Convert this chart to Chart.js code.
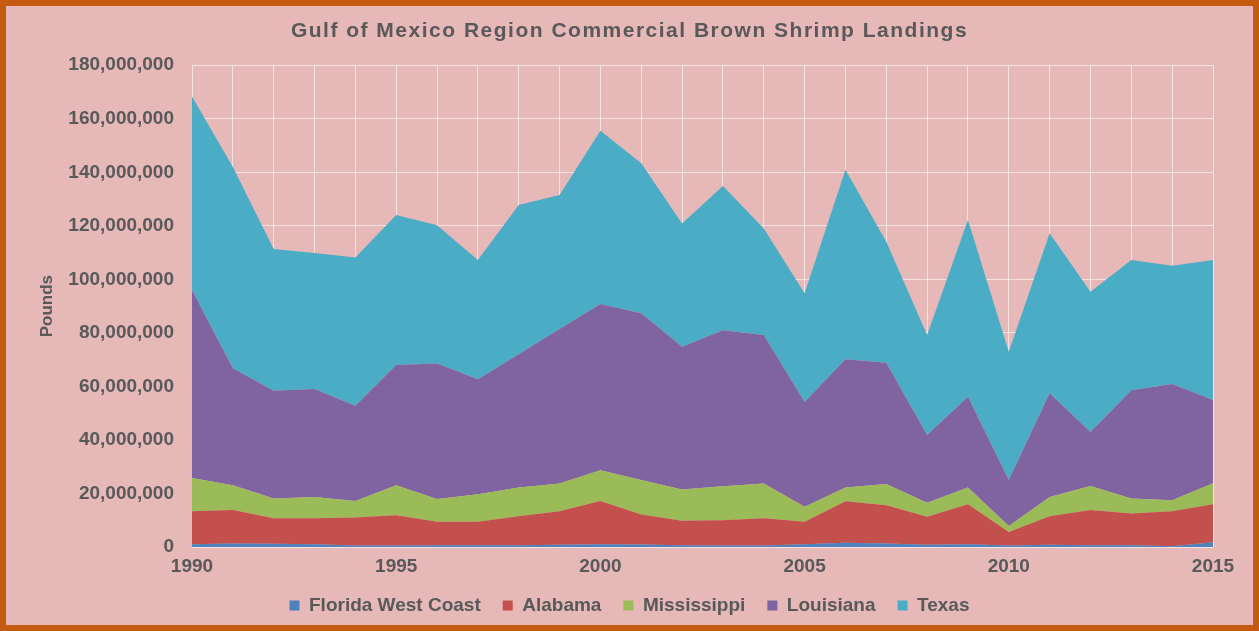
<!DOCTYPE html>
<html>
<head>
<meta charset="utf-8">
<script src="https://cdn.jsdelivr.net/npm/chart.js@4.4.1/dist/chart.umd.min.js"></script>
<style>
  body { margin: 0; background: #e6b8b8; }
  #wrap {
    width: 1259px; height: 631px; box-sizing: border-box;
    border: 6px solid #c55a11; background: #e6b8b8; position: relative;
  }
  #wrap canvas { display: block; }
</style>
</head>
<body>
<div id="wrap"><canvas id="myChart" width="1247" height="619"></canvas></div>
<script>
// years on the x axis
const years = [1990, 1991, 1992, 1993, 1994, 1995, 1996, 1997, 1998, 1999, 2000, 2001, 2002,
  2003, 2004, 2005, 2006, 2007, 2008, 2009, 2010, 2011, 2012, 2013, 2014, 2015];

// landings in millions of pounds
const floridaWestCoast = [1.0, 1.3, 1.2, 1.0, 0.6, 0.6, 0.7, 0.7, 0.7, 0.8, 1.0, 0.9, 0.7,
  0.6, 0.6, 1.0, 1.6, 1.3, 0.8, 1.0, 0.6, 0.8, 0.7, 0.7, 0.3, 1.8];
const alabama = [12.4, 12.5, 9.5, 9.7, 10.4, 11.3, 8.7, 8.7, 10.8, 12.6, 16.2, 11.2, 9.1,
  9.4, 10.1, 8.4, 15.5, 14.3, 10.5, 15.0, 5.0, 10.7, 13.1, 11.8, 13.1, 14.2];
const mississippi = [12.4, 9.3, 7.4, 8.0, 6.2, 11.2, 8.5, 10.3, 10.7, 10.3, 11.5, 12.9, 11.7,
  12.7, 13.0, 5.6, 5.1, 7.9, 5.2, 6.2, 2.2, 7.2, 9.0, 5.6, 4.1, 7.8];
const louisiana = [70.2, 43.7, 40.3, 40.3, 35.6, 44.9, 50.7, 43.0, 49.8, 57.7, 62.1, 62.3, 53.3,
  58.3, 55.5, 39.2, 47.9, 45.3, 25.3, 33.9, 17.2, 38.7, 20.2, 40.5, 43.4, 31.1];
const texas = [72.3, 75.2, 52.9, 50.8, 55.4, 56.0, 51.6, 44.5, 55.8, 50.1, 64.7, 56.1, 46.1,
  53.9, 39.8, 40.6, 70.8, 45.2, 37.4, 66.1, 47.9, 59.8, 52.4, 48.6, 44.2, 52.3];

const seriesNames = ["Florida West Coast", "Alabama", "Mississippi", "Louisiana", "Texas"];
const seriesColors = ["#4f81bd", "#c4504d", "#9bbb59", "#8064a2", "#4bacc6"];
const seriesValues = [floridaWestCoast, alabama, mississippi, louisiana, texas];

const textColor = "#595959";
const fontFamily = "'Liberation Sans', Arial, sans-serif";

const datasets = seriesNames.map((name, i) => ({
  label: name,
  data: seriesValues[i].map(v => Math.round(v * 1000000)),
  backgroundColor: seriesColors[i],
  borderColor: seriesColors[i],
  borderWidth: 0,
  pointRadius: 0,
  tension: 0,
  fill: i === 0 ? "origin" : "-1",
}));

// the title in the original is a little more spread out
const titleSpacing = {
  id: "titleSpacing",
  beforeDraw(chart) {
    const tb = chart.titleBlock;
    if (!tb || tb._spaced) return;
    const orig = tb.draw.bind(tb);
    tb.draw = function (area) {
      chart.ctx.save();
      chart.ctx.letterSpacing = "1.5px";
      orig(area);
      chart.ctx.restore();
    };
    tb._spaced = true;
  },
};

const config = {
  type: "line",
  data: { labels: years, datasets },
  options: {
    responsive: false,
    animation: false,
    layout: { padding: 0 },
    plugins: {
      title: {
        display: true,
        text: "Gulf of Mexico Region Commercial Brown Shrimp Landings",
        color: textColor,
        font: { family: fontFamily, size: 21, weight: "bold" },
        padding: { top: 13, bottom: 21 },
      },
      legend: {
        position: "bottom",
        labels: {
          color: textColor,
          font: { family: fontFamily, size: 19, weight: "bold" },
          boxWidth: 10,
          boxHeight: 10,
          padding: 22,
        },
      },
      tooltip: { enabled: false },
    },
    scales: {
      x: {
        grid: { color: "rgba(255,255,255,0.6)", drawTicks: false, lineWidth: 1 },
        border: { display: false },
        afterFit: scale => { scale.height = 27; },
        ticks: {
          color: textColor,
          font: { family: fontFamily, size: 19, weight: "bold" },
          autoSkip: false,
          maxRotation: 0,
          padding: 8,
          callback: function (value, index) {
            const y = years[index];
            return y % 5 === 0 ? String(y) : "";
          },
        },
      },
      y: {
        stacked: true,
        min: 0,
        max: 180000000,
        grid: { color: "rgba(255,255,255,0.6)", drawTicks: false, lineWidth: 1 },
        border: { display: false },
        afterFit: scale => { scale.width = 186; },
        title: {
          display: true,
          text: "Pounds",
          color: textColor,
          font: { family: fontFamily, size: 17, weight: "bold" },
          padding: { top: 31, bottom: 0 },
        },
        ticks: {
          stepSize: 20000000,
          color: textColor,
          font: { family: fontFamily, size: 19, weight: "bold" },
          padding: 18,
          callback: v => v.toLocaleString("en-US"),
        },
      },
      // empty right-hand strip so the plot stops short of the frame
      yRight: {
        position: "right",
        display: true,
        grid: { display: false },
        border: { display: false },
        ticks: { display: false },
        afterFit: scale => { scale.width = 40; },
      },
    },
  },
  plugins: [titleSpacing],
};

new Chart(document.getElementById("myChart"), config);
</script>
</body>
</html>
